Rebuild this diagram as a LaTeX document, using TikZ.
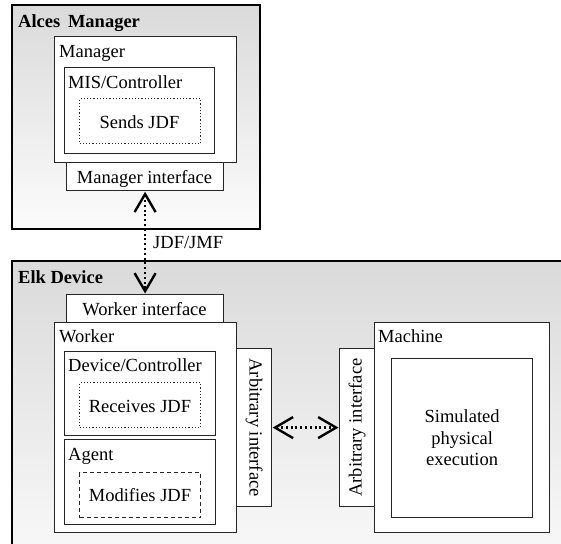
\documentclass[tikz,border=0pt]{standalone}
\usepackage{fontspec}
\setmainfont{Liberation Serif}
\usetikzlibrary{arrows.meta}
\begin{document}
\begin{tikzpicture}[x=1pt,y=-1pt,
  font=\fontsize{18.5}{21.5}\selectfont,
  group/.style={draw=black, line width=2.2pt, inner sep=0pt, anchor=north west,
    top color={rgb,255:red,218;green,218;blue,218},
    bottom color={rgb,255:red,252;green,252;blue,252}},
  box/.style={draw=black!85, line width=1.2pt, fill=white, inner sep=0pt, anchor=north west},
  dotbox/.style={box, dash pattern=on 1.2pt off 2pt},
  dashbox/.style={box, dash pattern=on 4pt off 3pt},
  lbl/.style={anchor=base west, inner sep=0pt},
  ctr/.style={anchor=base, inner sep=0pt},
  barb/.tip={Straight Barb[length=18pt,width=21pt,line width=2.4pt]},
  link/.style={line width=2.4pt, dash pattern=on 2pt off 2.8pt, barb-barb, shorten <=0.5pt, shorten >=0.5pt}]
\useasboundingbox (0,0) rectangle (561,543);
\clip (0,0) rectangle (561,543);

% Alces Manager
\node[group, minimum width=248, minimum height=224] (alces) at (11,4) {};
\node[lbl, font=\fontsize{18.5}{21.5}\selectfont\bfseries] (alcesT) at (18,28) {Alces\,\ Manager};
\node[box, minimum width=182, minimum height=126] (manager) at (54,36) {};
\node[lbl] (managerT) at (59,57) {Manager};
\node[box, minimum width=150, minimum height=86] (mis) at (64,67) {};
\node[lbl] (misT) at (68,88) {MIS/Controller};
\node[dotbox, minimum width=121, minimum height=45] (sends) at (79,98) {};
\node[ctr] (sendsT) at (139.5,128) {Sends JDF};
\node[box, minimum width=157, minimum height=28] (mif) at (66,162) {};
\node[ctr] (mifT) at (144.5,183) {Manager interface};

% Elk Device
\node[group, minimum width=600, minimum height=330] (elk) at (11,260) {};
\node[lbl, font=\fontsize{18.5}{21.5}\selectfont\bfseries] (elkT) at (18,283) {Elk Device};
\node[box, minimum width=157, minimum height=28] (wif) at (66,294) {};
\node[ctr] (wifT) at (144.5,315) {Worker interface};
\node[box, minimum width=182, minimum height=210] (worker) at (54,322) {};
\node[lbl] (workerT) at (59,342) {Worker};
\node[box, minimum width=151, minimum height=84] (devctl) at (64,351) {};
\node[lbl] (devctlT) at (68,371) {Device/Controller};
\node[dotbox, minimum width=121, minimum height=45] (recv) at (79,382) {};
\node[ctr] (recvT) at (140,412) {Receives JDF};
\node[box, minimum width=151, minimum height=85] (agent) at (64,439) {};
\node[lbl] (agentT) at (68,460) {Agent};
\node[dashbox, minimum width=121, minimum height=45] (modif) at (79,472) {};
\node[ctr] (modifT) at (140,501) {Modifies JDF};
\node[box, minimum width=35, minimum height=158] (arbL) at (236,348) {};
\node[rotate=-90, inner sep=0pt] (arbLT) at (arbL.center) {Arbitrary interface};

\node[box, minimum width=175, minimum height=210] (machine) at (374,322) {};
\node[lbl] (machineT) at (378,342) {Machine};
\node[box, minimum width=141, minimum height=159] (sim) at (391,358) {};
\node[align=center, inner sep=0pt] (simT) at (sim.center) {Simulated\\physical\\execution};
\node[box, minimum width=35, minimum height=158] (arbR) at (339,348) {};
\node[rotate=90, inner sep=0pt] (arbRT) at (arbR.center) {Arbitrary interface};

% Connectors
\draw[link] (mif.south) -- (wif.north);
\node[lbl] (jdfT) at (153,248) {JDF/JMF};
\draw[link] (arbL.east) -- (arbR.west);
\end{tikzpicture}
\end{document}
